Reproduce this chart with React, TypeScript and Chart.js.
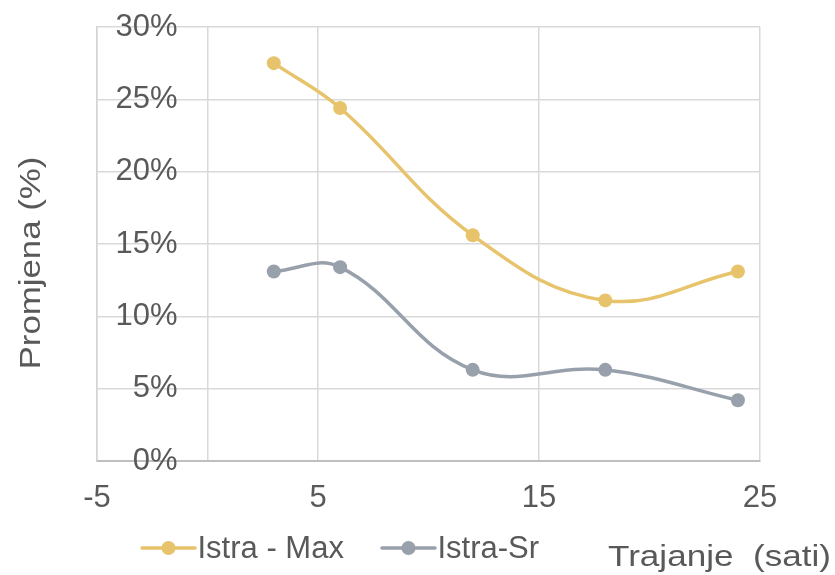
import React, { useEffect, useRef } from "react";
import { Chart, registerables } from "chart.js";

Chart.register(...registerables);

const hoursX = [3, 6, 12, 18, 24];
const istraMax = [27.5, 24.4, 15.6, 11.1, 13.1];
const istraSr = [13.1, 13.4, 6.3, 6.3, 4.2];
const seriesNames = ["Istra - Max", "Istra-Sr"];
const seriesColors = ["#e7c46b", "#98a1ab"];
const xTickValues = [-5, 0, 5, 15, 25];
const yTitle = "Promjena (%)";
const xTitle = "Trajanje  (sati)";

const FONT = "'Liberation Sans', Arial, sans-serif";
const TEXT = "#595959";

export default function App() {
  const ref = useRef<HTMLCanvasElement | null>(null);

  useEffect(() => {
    if (!ref.current) return;
    const toPts = (ys: number[]) => hoursX.map((x, i) => ({ x, y: ys[i] }));
    const overlay = {
      id: "overlay",
      afterDraw(chart: any) {
        const ctx = chart.ctx;
        const xs = chart.scales.x;
        const ys = chart.scales.y;
        ctx.save();
        // y tick labels, next to the vertical axis at x = 0
        ctx.fillStyle = TEXT;
        ctx.font = `31px ${FONT}`;
        ctx.textAlign = "right";
        ctx.textBaseline = "middle";
        const axisX = xs.getPixelForValue(0);
        ys.ticks.forEach((t: any) => {
          ctx.fillText(`${t.value}%`, axisX - 30, ys.getPixelForValue(t.value));
        });
        // axis titles (wide glyphs like the original)
        ctx.font = `30px ${FONT}`;
        ctx.textBaseline = "alphabetic";
        ctx.save();
        ctx.translate(40, 263);
        ctx.rotate(-Math.PI / 2);
        ctx.scale(1.16, 1);
        ctx.textAlign = "center";
        ctx.fillText(yTitle, 0, 0);
        ctx.restore();
        ctx.save();
        ctx.translate(831, 566);
        ctx.scale(1.17, 1);
        ctx.textAlign = "right";
        ctx.fillText(xTitle, 0, 0);
        ctx.restore();
        // legend
        ctx.font = `31px ${FONT}`;
        const items = [
          { x0: 142, x1: 195, tx: 197.5 },
          { x0: 382, x1: 435, tx: 437.5 },
        ];
        items.forEach((it, i) => {
          ctx.strokeStyle = seriesColors[i];
          ctx.lineWidth = 3.5;
          ctx.lineCap = "round";
          ctx.beginPath();
          ctx.moveTo(it.x0, 548);
          ctx.lineTo(it.x1, 548);
          ctx.stroke();
          ctx.fillStyle = seriesColors[i];
          ctx.beginPath();
          ctx.arc((it.x0 + it.x1) / 2, 548, 7, 0, Math.PI * 2);
          ctx.fill();
          ctx.fillStyle = TEXT;
          ctx.textAlign = "left";
          ctx.fillText(seriesNames[i], it.tx, 558);
        });
        ctx.restore();
      },
    };

    const chart = new Chart(ref.current, {
      type: "scatter",
      data: {
        datasets: [istraMax, istraSr].map((ys, i) => ({
          label: seriesNames[i],
          data: toPts(ys),
          showLine: true,
          tension: 0.4,
          borderColor: seriesColors[i],
          backgroundColor: seriesColors[i],
          borderWidth: 3.5,
          pointRadius: 7,
          pointBorderWidth: 0,
          pointBackgroundColor: seriesColors[i],
        })),
      },
      options: {
        responsive: false,
        animation: false,
        layout: { padding: { left: 0, top: 27, right: 75, bottom: 0 } },
        plugins: { legend: { display: false }, tooltip: { enabled: false } },
        scales: {
          x: {
            type: "linear",
            min: -5,
            max: 25,
            afterBuildTicks: (scale: any) => {
              scale.ticks = xTickValues.map((v) => ({ value: v }));
            },
            afterFit: (scale: any) => {
              scale.height = 114;
            },
            ticks: {
              font: { size: 31, family: FONT },
              color: TEXT,
              padding: 19,
              maxRotation: 0,
              autoSkip: false,
              callback: (v: any) => (v === 0 ? "" : String(v)),
            },
            grid: { color: "#d9d9d9", lineWidth: 1.5, drawTicks: false },
            border: { color: "#bfbfbf", width: 2 },
          },
          y: {
            type: "linear",
            position: "left",
            min: 0,
            max: 30,
            afterFit: (scale: any) => {
              scale.width = 97;
            },
            ticks: { stepSize: 5, display: false },
            grid: { color: "#d9d9d9", lineWidth: 1.5, drawTicks: false },
            border: { color: "#d4d4d4", width: 1.5 },
          },
        },
      },
      plugins: [overlay],
    } as any);
    return () => chart.destroy();
  }, []);

  return (
    <div style={{ position: "absolute", left: 0, top: 0, width: 835, height: 575, background: "#fff" }}>
      <canvas ref={ref} width={835} height={575} style={{ display: "block" }} />
    </div>
  );
}
